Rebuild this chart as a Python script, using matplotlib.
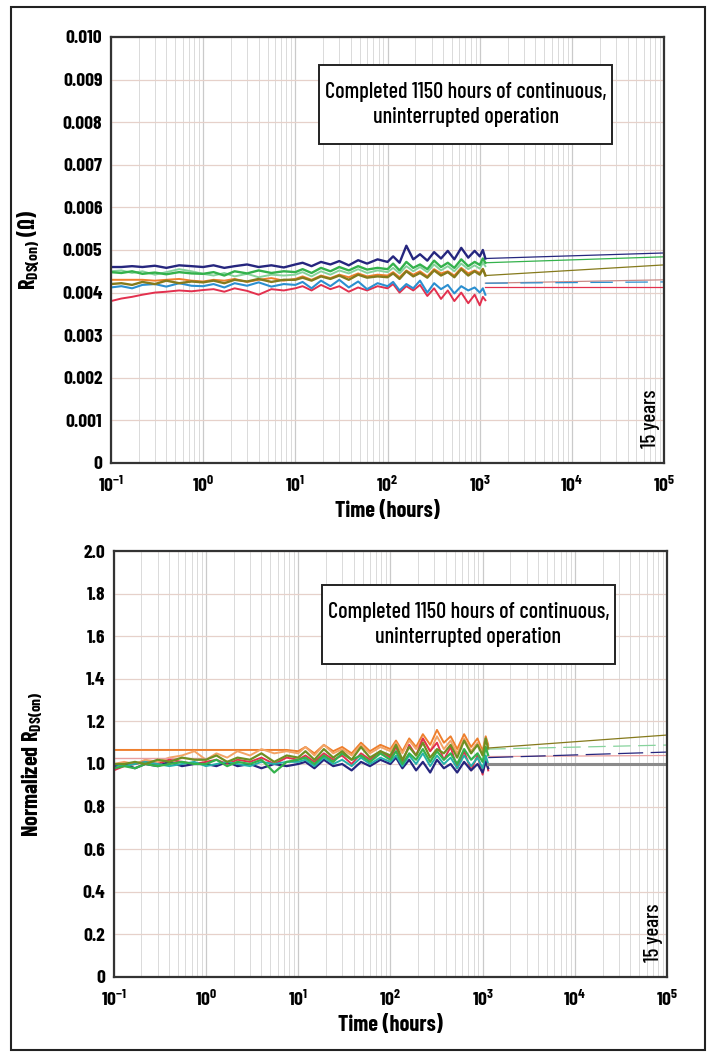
import matplotlib
matplotlib.use("Agg")
import matplotlib.pyplot as plt
from matplotlib.patches import Rectangle
import numpy as np

plt.rcParams['font.family'] = ['Barlow Condensed', 'Liberation Sans Narrow', 'DejaVu Sans']
plt.rcParams['mathtext.fontset'] = 'custom'
plt.rcParams['mathtext.rm'] = 'Barlow Condensed:bold'
plt.rcParams['mathtext.it'] = 'Barlow Condensed:bold'
plt.rcParams['mathtext.bf'] = 'Barlow Condensed:bold'

# sample times (hours) of the measured part
hours = [0.1, 0.13, 0.17, 0.22, 0.3, 0.4, 0.55, 0.75,
         1.0, 1.3, 1.7, 2.2, 3.0, 4.0, 5.5, 7.5,
         10, 12, 15, 19, 24, 30, 38, 48, 60, 78,
         100, 115, 135, 160, 190, 225, 270, 320, 380, 450, 530, 630, 750, 880,
         1000, 1080, 1150]
extrap_hours = [1150, 100000]

# ---- top panel, RDS(on) in milliohm ----
r_red = [3.80, 3.86, 3.90, 3.95, 4.00, 4.02, 4.05, 4.03,
         4.06, 4.08, 4.02, 4.10, 4.04, 3.95, 4.08, 4.05,
         4.10, 4.15, 4.05, 4.18, 4.08, 4.15, 4.02, 4.12, 4.05, 4.15,
         4.10, 4.20, 4.00, 4.15, 4.05, 4.18, 3.92, 4.10, 3.85, 4.05, 3.80, 4.00, 3.75, 3.95,
         3.70, 3.90, 3.82]
r_blue = [4.12, 4.15, 4.10, 4.18, 4.20, 4.14, 4.22, 4.16,
          4.15, 4.20, 4.12, 4.22, 4.16, 4.24, 4.14, 4.20,
          4.18, 4.25, 4.10, 4.28, 4.15, 4.30, 4.12, 4.26, 4.08, 4.22,
          4.15, 4.25, 4.05, 4.20, 4.10, 4.28, 4.00, 4.22, 4.08, 4.18, 3.98, 4.15, 4.05, 4.12,
          4.00, 4.10, 3.95]
r_orange = [4.30, 4.30, 4.30, 4.30, 4.28, 4.30, 4.32, 4.28,
            4.26, 4.30, 4.28, 4.32, 4.25, 4.30, 4.34, 4.28,
            4.32, 4.38, 4.30, 4.40, 4.34, 4.42, 4.36, 4.45, 4.38, 4.42,
            4.40, 4.48, 4.36, 4.52, 4.42, 4.50, 4.38, 4.55, 4.45, 4.50, 4.40, 4.58, 4.45, 4.52,
            4.46, 4.56, 4.42]
r_ltgreen = [4.50, 4.52, 4.46, 4.50, 4.42, 4.48, 4.55, 4.50,
             4.44, 4.40, 4.46, 4.38, 4.44, 4.36, 4.42, 4.40,
             4.42, 4.48, 4.38, 4.50, 4.42, 4.52, 4.45, 4.55, 4.46, 4.52,
             4.48, 4.58, 4.45, 4.62, 4.50, 4.60, 4.48, 4.66, 4.52, 4.62, 4.50, 4.68, 4.55, 4.64,
             4.56, 4.70, 4.62]
r_green = [4.48, 4.46, 4.50, 4.44, 4.47, 4.43, 4.48, 4.45,
           4.44, 4.48, 4.40, 4.50, 4.45, 4.52, 4.46, 4.50,
           4.48, 4.55, 4.46, 4.58, 4.50, 4.60, 4.52, 4.62, 4.54, 4.58,
           4.55, 4.68, 4.52, 4.72, 4.58, 4.66, 4.55, 4.75, 4.60, 4.70, 4.58, 4.78, 4.62, 4.72,
           4.65, 4.80, 4.70]
r_navy = [4.60, 4.60, 4.62, 4.60, 4.63, 4.58, 4.64, 4.62,
          4.60, 4.64, 4.58, 4.62, 4.66, 4.60, 4.64, 4.59,
          4.66, 4.70, 4.62, 4.72, 4.66, 4.74, 4.64, 4.76, 4.68, 4.78,
          4.72, 4.85, 4.70, 5.10, 4.78, 4.90, 4.75, 4.95, 4.80, 4.98, 4.78, 5.05, 4.82, 4.98,
          4.85, 5.00, 4.80]
r_olive = [4.20, 4.22, 4.18, 4.25, 4.20, 4.28, 4.22, 4.26,
           4.24, 4.28, 4.22, 4.30, 4.26, 4.32, 4.25, 4.30,
           4.30, 4.35, 4.28, 4.38, 4.32, 4.40, 4.30, 4.42, 4.35, 4.38,
           4.36, 4.45, 4.32, 4.50, 4.38, 4.46, 4.35, 4.52, 4.40, 4.48, 4.36, 4.55, 4.40, 4.50,
           4.42, 4.55, 4.40]
# 15-year projections (start, end)
r_proj_navy = [4.80, 4.93]
r_proj_green = [4.70, 4.84]
r_proj_olive = [4.40, 4.65]
r_proj_pink = [4.22, 4.30]
r_proj_blue = [4.22, 4.25]
r_proj_red = [4.13, 4.13]

# ---- bottom panel, normalized RDS(on) ----
n_orange = [1.066, 1.066, 1.066, 1.066, 1.066, 1.066, 1.066, 1.066,
            1.066, 1.066, 1.066, 1.066, 1.066, 1.066, 1.066, 1.066,
            1.06, 1.08, 1.05, 1.09, 1.06, 1.08, 1.05, 1.10, 1.06, 1.09,
            1.07, 1.11, 1.06, 1.12, 1.08, 1.14, 1.09, 1.16, 1.10, 1.13, 1.07, 1.14, 1.08, 1.12,
            1.06, 1.13, 1.09]
n_ltorange = [1.00, 1.01, 1.00, 1.02, 1.01, 1.03, 1.04, 1.06,
              1.02, 1.05, 1.03, 1.06, 1.04, 1.07, 1.05, 1.06,
              1.05, 1.08, 1.04, 1.09, 1.05, 1.07, 1.04, 1.09, 1.05, 1.08,
              1.06, 1.10, 1.05, 1.11, 1.07, 1.12, 1.06, 1.13, 1.07, 1.11, 1.05, 1.12, 1.06, 1.10,
              1.05, 1.12, 1.08]
n_pink_flat = [1.028, 1.028, 1.028, 1.028, 1.028, 1.028, 1.028, 1.028, 1.028]
n_red = [0.97, 0.99, 1.00, 1.01, 1.00, 1.02, 1.01, 1.00,
         1.01, 1.02, 1.00, 1.02, 1.01, 1.03, 1.00, 1.03,
         1.02, 1.04, 1.01, 1.05, 1.02, 1.04, 1.00, 1.05, 1.02, 1.06,
         1.03, 1.08, 1.01, 1.09, 1.04, 1.12, 1.06, 1.10, 1.02, 1.08, 0.98, 1.06, 0.97, 1.04,
         0.95, 1.03, 0.97]
n_navy = [0.99, 1.00, 0.98, 1.00, 0.99, 1.01, 0.99, 1.00,
          1.00, 0.99, 1.01, 0.99, 1.00, 0.98, 1.00, 0.99,
          1.00, 1.01, 0.98, 1.02, 0.99, 1.00, 0.97, 1.01, 0.99, 1.02,
          1.00, 1.03, 0.98, 1.02, 0.97, 1.01, 0.96, 1.02, 0.98, 1.00, 0.96, 1.01, 0.97, 1.00,
          0.96, 1.01, 0.98]
n_teal = [1.00, 0.99, 1.00, 1.01, 1.00, 0.99, 1.00, 1.01,
          0.99, 1.00, 1.01, 1.00, 0.99, 1.01, 1.00, 1.01,
          1.01, 1.02, 0.99, 1.03, 1.00, 1.02, 0.99, 1.03, 1.00, 1.03,
          1.01, 1.04, 0.99, 1.04, 1.00, 1.05, 0.99, 1.04, 1.00, 1.03, 0.98, 1.04, 0.99, 1.03,
          0.98, 1.04, 1.00]
n_green = [0.98, 0.99, 0.98, 1.00, 0.99, 1.00, 1.01, 1.00,
           1.00, 1.02, 0.99, 1.01, 1.00, 1.02, 0.96, 1.01,
           1.02, 1.03, 1.00, 1.04, 1.01, 1.05, 1.02, 1.04, 1.01, 1.05,
           1.02, 1.06, 1.00, 1.05, 1.02, 1.07, 1.01, 1.06, 1.02, 1.05, 1.00, 1.07, 1.02, 1.05,
           1.01, 1.08, 1.04]
n_olive = [1.00, 1.00, 1.01, 1.00, 1.02, 1.01, 1.03, 1.02,
           1.02, 1.04, 1.01, 1.03, 1.02, 1.05, 1.01, 1.04,
           1.03, 1.06, 1.02, 1.07, 1.03, 1.06, 1.02, 1.08, 1.03, 1.06,
           1.04, 1.09, 1.02, 1.08, 1.04, 1.10, 1.03, 1.07, 1.05, 1.09, 1.03, 1.11, 1.05, 1.09,
           1.04, 1.12, 1.07]
n_proj_olive = [1.075, 1.136]
n_proj_green = [1.07, 1.089]
n_proj_navy = [1.03, 1.056]
n_proj_pink = [1.035, 1.04]
n_proj_grey = [1.0, 1.0]

y_ticks_top = [0, 0.001, 0.002, 0.003, 0.004, 0.005, 0.006, 0.007, 0.008, 0.009, 0.010]
y_labels_top = ['0', '0.001', '0.002', '0.003', '0.004', '0.005', '0.006', '0.007', '0.008', '0.009', '0.010']
y_ticks_bot = [0, 0.2, 0.4, 0.6, 0.8, 1.0, 1.2, 1.4, 1.6, 1.8, 2.0]
y_labels_bot = ['0', '0.2', '0.4', '0.6', '0.8', '1.0', '1.2', '1.4', '1.6', '1.8', '2.0']
x_ticks = [1e-1, 1e0, 1e1, 1e2, 1e3, 1e4, 1e5]
x_labels = ['$10^{-1}$', '$10^{0}$', '$10^{1}$', '$10^{2}$', '$10^{3}$', '$10^{4}$', '$10^{5}$']

C_NAVY = '#26267e'
C_GREEN = '#34b24c'
C_LTGREEN = '#86d39c'
C_OLIVE = '#857a1c'
C_ORANGE = '#ee7f2d'
C_LTORANGE = '#f3a466'
C_BLUE = '#2b8fd0'
C_RED = '#e3304e'
C_PINK = '#e8a0a0'
C_TEAL = '#25b0a8'

fig = plt.figure(figsize=(7.15, 10.57), dpi=100)
fig.patches.append(Rectangle((0.0154, 0.0066), 0.9706, 0.9868, transform=fig.transFigure,
                             fill=False, edgecolor='#222222', linewidth=1.5))

ax1 = fig.add_axes([0.155, 0.562, 0.774, 0.403])
ax2 = fig.add_axes([0.159, 0.0757, 0.774, 0.403])


def style_axes(ax, yticks, ylabels, ymax):
    ax.set_xscale('log')
    ax.set_xlim(0.1, 1e5)
    ax.set_ylim(0, ymax)
    ax.set_yticks(yticks)
    ax.set_yticklabels(ylabels, fontsize=14, fontweight='bold')
    ax.set_xticks(x_ticks)
    ax.set_xticklabels(x_labels, fontsize=14)
    ax.xaxis.set_minor_locator(matplotlib.ticker.LogLocator(base=10, subs=np.arange(2, 10)))
    ax.xaxis.set_minor_formatter(matplotlib.ticker.NullFormatter())
    ax.tick_params(which='both', length=0)
    ax.tick_params(axis='y', pad=6)
    ax.tick_params(axis='x', pad=9)
    ax.grid(True, which='major', axis='y', color='#e6d1ca', linewidth=0.9)
    ax.grid(True, which='major', axis='x', color='#cacaca', linewidth=0.9)
    ax.grid(True, which='minor', axis='x', color='#dadada', linewidth=0.7)
    ax.set_axisbelow(True)
    for s in ax.spines.values():
        s.set_color('#333333')
        s.set_linewidth(1.6)
    ax.set_xlabel('Time (hours)', fontsize=16, fontweight='bold', labelpad=4)


# ---- top ----
mohm = 1000.0
ax1.plot(hours, np.array(r_red) / mohm, color=C_RED, lw=1.4)
ax1.plot(hours, np.array(r_blue) / mohm, color=C_BLUE, lw=1.5)
ax1.plot(hours, np.array(r_orange) / mohm, color=C_ORANGE, lw=1.4)
ax1.plot(hours, np.array(r_ltgreen) / mohm, color=C_LTGREEN, lw=1.4)
ax1.plot(hours, np.array(r_green) / mohm, color=C_GREEN, lw=1.7)
ax1.plot(hours, np.array(r_navy) / mohm, color=C_NAVY, lw=1.7)
ax1.plot(hours, np.array(r_olive) / mohm, color=C_OLIVE, lw=1.7)
ax1.plot(extrap_hours, np.array(r_proj_navy) / mohm, color=C_NAVY, lw=0.9)
ax1.plot(extrap_hours, np.array(r_proj_green) / mohm, color=C_GREEN, lw=0.9)
ax1.plot(extrap_hours, np.array(r_proj_olive) / mohm, color=C_OLIVE, lw=0.9)
ax1.plot(extrap_hours, np.array(r_proj_pink) / mohm, color='#c98a86', lw=0.9)
ax1.plot(extrap_hours, np.array(r_proj_blue) / mohm, color=C_BLUE, lw=0.9, ls=(0, (18, 10)))
ax1.plot(extrap_hours, np.array(r_proj_red) / mohm, color=C_RED, lw=0.9)
style_axes(ax1, y_ticks_top, y_labels_top, 0.010)
ax1.set_ylabel(r'R$_{\mathregular{DS(on)}}$ ($\Omega$)', fontsize=16, fontweight='bold')
ax1.yaxis.set_label_coords(-0.125, 0.5)

# ---- bottom ----
ax2.plot(hours, n_orange, color=C_ORANGE, lw=1.4)
ax2.plot(hours, n_ltorange, color=C_LTORANGE, lw=1.4)
ax2.plot(hours[:9], n_pink_flat, color=C_PINK, lw=1.0)
ax2.plot(hours, n_red, color=C_RED, lw=1.4)
ax2.plot(hours, n_navy, color=C_NAVY, lw=1.6)
ax2.plot(hours, n_teal, color=C_TEAL, lw=1.4)
ax2.plot(hours, n_green, color=C_GREEN, lw=1.6)
ax2.plot(hours, n_olive, color='#6f8f22', lw=1.6)
ax2.plot(extrap_hours, n_proj_grey, color='#8a8a8a', lw=2.2)
ax2.plot(extrap_hours, n_proj_pink, color=C_PINK, lw=0.9)
ax2.plot(extrap_hours, n_proj_navy, color=C_NAVY, lw=0.9, ls=(0, (20, 6)))
ax2.plot(extrap_hours, n_proj_green, color=C_LTGREEN, lw=0.9, ls=(0, (14, 6)))
ax2.plot(extrap_hours, n_proj_olive, color=C_OLIVE, lw=0.9)
style_axes(ax2, y_ticks_bot, y_labels_bot, 2.0)
ax2.set_ylabel(r'Normalized R$_{\mathregular{DS(on)}}$', fontsize=16, fontweight='bold')
ax2.yaxis.set_label_coords(-0.125, 0.5)

# annotation boxes and 15-year markers
for ax, (y0, y1) in [(ax1, (0.749, 0.934)), (ax2, (0.735, 0.92))]:
    ax.add_patch(Rectangle((0.376, y0), 0.53, y1 - y0, transform=ax.transAxes,
                           facecolor='white', edgecolor='#222222', linewidth=1.4, zorder=5))
    ax.text(0.641, (y0 + y1) / 2, 'Completed 1150 hours of continuous,\nuninterrupted operation',
            transform=ax.transAxes, ha='center', va='center', fontsize=16, fontweight='medium',
            linespacing=1.35, zorder=6)
    ax.text(0.975, 0.035, '15 years', transform=ax.transAxes, rotation=90,
            ha='center', va='bottom', fontsize=15, fontweight='medium', zorder=6)

fig.savefig('out.png', dpi=100)
